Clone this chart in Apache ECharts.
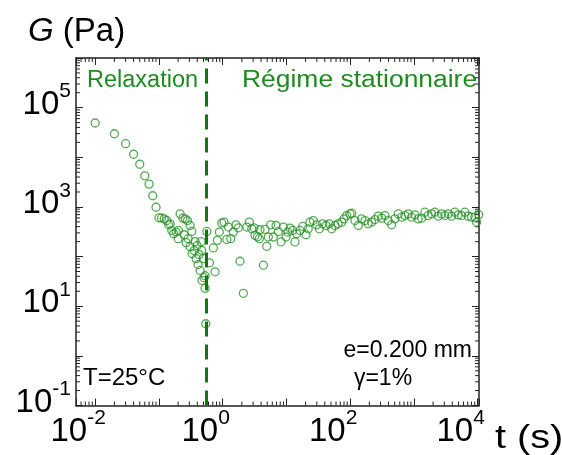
<!DOCTYPE html>
<html><head><meta charset="utf-8">
<script src="https://cdn.jsdelivr.net/npm/echarts@6/dist/echarts.min.js"></script>
<style>html,body{margin:0;padding:0;background:#fff}#c{width:562px;height:455px}</style>
</head><body><div id="c"></div>
<script>
// ---- data (t in s, G in Pa) ----
const timeS = [
0.01,0.02,0.03,0.04,0.05,0.06,0.07,0.08,0.09,0.10,
0.11,0.121,0.133,0.142,0.15,0.159,0.17,0.186,0.202,0.2,
0.215,0.237,0.258,0.28,0.248,0.267,0.287,0.308,0.328,0.308,
0.331,0.356,0.369,0.383,0.397,0.411,0.427,0.443,0.458,0.47,
0.475,0.498,0.51,0.53,0.53,0.564,0.543,
0.62,0.714,0.76,0.826,0.887,0.968,1.05,1.16,1.23,1.34,
1.47,1.62,1.76,1.87,2.11,2.39,2.62,2.86,3.1,3.22,
3.52,3.85,3.76,4.35,4.62,4.91,5.2,5.67,6.23,6.87,
7.46,8.23,8.94,9.86,10.5,11.4,12.5,13.6,14.5,16.3,
18.0,20.3,22.0,23.4,26.4,29.9,32.8,37.1,41.8,47.0,
51.3,57.8,65.0,73.6,80.0,88.1,99.3,
106,119,134,151,171,192,217,245,276,312,
351,395,447,504,568,641,723,815,920,1037,
1168,1320,1486,1675,1892,2133,2404,2716,3062,3451,
3899,4395,4946,5596,6300,7100,8020,9040,9620,10400];
const modulusPa = [
49000,29800,18800,11500,7240,4230,2880,1680,986,603,
600,575,532,437,457,336,288,312,336,229,
724,594,575,532,275,191,229,423,321,158,
115,132,200,91,166,69,110,52.5,200,134,
33.1,91,37.5,41.1,22.9,321,4.43,
74.8,149,49.4,212,312,472,494,222,393,229,
312,437,380,80.5,18.2,393,494,363,380,267,
251,347,229,67,352,161,248,437,248,423,
321,197,393,248,312,375,336,197,288,336,
404,275,363,494,532,437,363,457,423,457,
363,423,457,494,575,670,724,
748,532,423,575,532,457,494,557,652,594,
670,532,437,575,724,622,670,724,622,692,
575,594,783,670,724,783,652,724,670,724,
652,783,692,670,783,652,622,622,494,701];
const regimeBoundaryS = 0.56;
const xRange = [0.005, 10500];
const yRange = [0.1, 1e6];
const xLabelExponents = [-2, 0, 2, 4];
const yLabelExponents = [-1, 1, 3, 5];
const minorMultipliers = [2,3,4,5,6,7,8,9];
const xDecades = [-3,-2,-1,0,1,2,3,4];
const yDecades = [-1,0,1,2,3,4,5];

const FONT = '"Liberation Sans", Arial, sans-serif';
const GREEN_TXT = '#1f8a1f';
const GREEN_MK = '#2a942a';
const AXIS = '#222';

const points = timeS.map((t, i) => [t, modulusPa[i]]);
const xMinor = [], yMinor = [];
xDecades.forEach(d => minorMultipliers.forEach(m => xMinor.push(m * Math.pow(10, d))));
yDecades.forEach(d => minorMultipliers.forEach(m => yMinor.push(m * Math.pow(10, d))));

function powLabel(exps) {
  return function (v) {
    const l = Math.log10(v), e = Math.round(l);
    if (Math.abs(l - e) > 1e-6 || exps.indexOf(e) < 0) return '';
    return '{b|10}{s|' + e + '}';
  };
}
const rich = {
  b: {fontSize: 33, fontFamily: FONT, color: '#000', lineHeight: 36},
  s: {fontSize: 21, fontFamily: FONT, color: '#000', lineHeight: 21, padding: [0, 0, 26, 0]}
};
const axLine = {show: true, lineStyle: {color: AXIS, width: 1.5}};
const majTick = {show: true, inside: true, length: 7, lineStyle: {color: AXIS, width: 1}};

const chart = echarts.init(document.getElementById('c'), null, {renderer: 'canvas'});
chart.setOption({
  animation: false,
  backgroundColor: '#fff',
  grid: {left: 76, top: 58, right: 83, bottom: 47, containLabel: false},
  xAxis: [
    {type: 'log', logBase: 10, min: xRange[0], max: xRange[1], position: 'bottom',
     axisLine: axLine, axisTick: majTick, splitLine: {show: false},
     axisLabel: {show: true, interval: 0, margin: 8, padding: [0, 34, 0, 0],
       formatter: powLabel(xLabelExponents), rich: rich, showMinLabel: true, showMaxLabel: true, hideOverlap: false}},
    {type: 'log', logBase: 10, min: xRange[0], max: xRange[1], position: 'top',
     axisLine: axLine, axisTick: majTick, splitLine: {show: false}, axisLabel: {show: false}}
  ],
  yAxis: [
    {type: 'log', logBase: 10, min: yRange[0], max: yRange[1], position: 'left',
     axisLine: axLine, axisTick: majTick, splitLine: {show: false},
     axisLabel: {show: true, interval: 0, margin: 5, padding: [0, 0, 6, 0],
       formatter: powLabel(yLabelExponents), rich: rich, hideOverlap: false}},
    {type: 'log', logBase: 10, min: yRange[0], max: yRange[1], position: 'right',
     axisLine: axLine, axisTick: majTick, splitLine: {show: false}, axisLabel: {show: false}}
  ],
  series: [
    {
      type: 'custom', coordinateSystem: 'cartesian2d', xAxisIndex: 0, yAxisIndex: 0,
      silent: true, clip: false, data: [[1, 1]], encode: {x: 0, y: 1},
      renderItem: function (params, api) {
        const cs = params.coordSys, L = 4, ch = [];
        const st = {stroke: AXIS, lineWidth: 1};
        const x0 = cs.x, x1 = cs.x + cs.width, y0 = cs.y, y1 = cs.y + cs.height;
        xMinor.forEach(v => {
          const p = api.coord([v, 1])[0];
          if (p <= x0 + 0.5 || p >= x1 - 0.5) return;
          ch.push({type: 'line', shape: {x1: p, y1: y1, x2: p, y2: y1 - L}, style: st});
          ch.push({type: 'line', shape: {x1: p, y1: y0, x2: p, y2: y0 + L}, style: st});
        });
        yMinor.forEach(v => {
          const p = api.coord([1, v])[1];
          if (p <= y0 + 0.5 || p >= y1 - 0.5) return;
          ch.push({type: 'line', shape: {x1: x0, y1: p, x2: x0 + L, y2: p}, style: st});
          ch.push({type: 'line', shape: {x1: x1, y1: p, x2: x1 - L, y2: p}, style: st});
        });
        return {type: 'group', children: ch};
      }
    },
    {
      type: 'scatter', xAxisIndex: 0, yAxisIndex: 0, data: points,
      symbol: 'circle', symbolSize: 8,
      itemStyle: {color: 'rgba(255,255,255,0)', borderColor: GREEN_MK, borderWidth: 1.3},
      markLine: {
        silent: true, symbol: ['none', 'none'], label: {show: false},
        lineStyle: {color: '#0e7a0e', width: 3, type: [15, 8]},
        data: [{xAxis: regimeBoundaryS}]
      }
    }
  ],
  graphic: [
    {type: 'text', x: 28, y: 32, style: {text: '{i|G} (Pa)', font: '33px ' + FONT, fill: '#000',
      verticalAlign: 'middle', align: 'left',
      rich: {i: {fontStyle: 'italic', fontSize: 33, fontFamily: FONT, fill: '#000'}}}},
    {type: 'text', x: 495, y: 439, scaleX: 1.2, style: {text: 't (s)', font: '33px ' + FONT, fill: '#000',
      verticalAlign: 'middle', align: 'left'}},
    {type: 'text', x: 87, y: 81, style: {text: 'Relaxation', font: '23.5px ' + FONT, fill: GREEN_TXT,
      verticalAlign: 'middle', align: 'left'}},
    {type: 'text', x: 242, y: 81, scaleX: 1.125, style: {text: 'Régime stationnaire', font: '23.5px ' + FONT, fill: GREEN_TXT,
      verticalAlign: 'middle', align: 'left'}},
    {type: 'text', x: 83, y: 378, style: {text: 'T=25°C', font: '24px ' + FONT, fill: '#000',
      verticalAlign: 'middle', align: 'left'}},
    {type: 'text', x: 472, y: 351, style: {text: 'e=0.200 mm', font: '23px ' + FONT, fill: '#000',
      verticalAlign: 'middle', align: 'right'}},
    {type: 'text', x: 383, y: 379, style: {text: 'γ=1%', font: '23px ' + FONT, fill: '#000',
      verticalAlign: 'middle', align: 'center'}}
  ]
});
</script>
</body></html>
